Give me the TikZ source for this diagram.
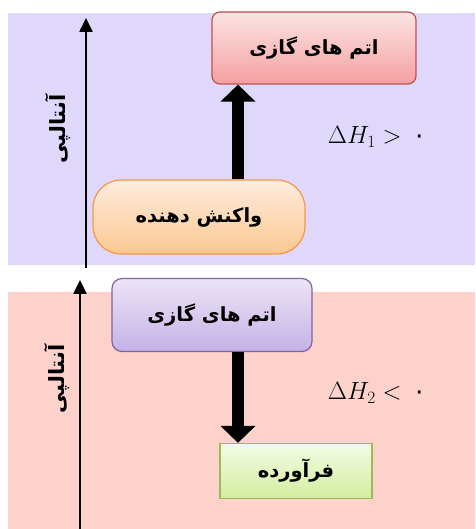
\documentclass[tikz,border=0pt]{standalone}
\usepackage{fontspec}
\usepackage{amsmath}
\usepackage{xcolor}
\usepackage{tikz}
\usetikzlibrary{arrows.meta, positioning, calc}
\newfontfamily\arabicfont[Script=Arabic]{DejaVu Sans}
\TeXXeTstate=1
\definecolor{topbg}{HTML}{DFD8FA}
\definecolor{botbg}{HTML}{FCD2CA}

\begin{document}
\begin{tikzpicture}[
    x=1pt, y=1pt,
    box/.style={rectangle, draw, line width=1.2pt, align=center, inner sep=0pt, font=\arabicfont\bfseries\fontsize{19.5}{22}\selectfont},
    axis/.style={-{Triangle[width=13pt,length=14pt]}, line width=2.5pt},
    bigarrow/.style={-{Triangle[width=34pt,length=17pt]}, line width=12pt},
    axislabel/.style={rotate=90, font=\arabicfont\bfseries\fontsize{21}{24}\selectfont},
    enthalpy/.style={font=\fontsize{25}{28}\selectfont}
]
\useasboundingbox (0,0) rectangle (475,529);

\fill[topbg] (8,264) rectangle (475,516);
\fill[botbg] (8,0) rectangle (475,237);

\coordinate (topaxisstart) at (86,261);
\coordinate (topaxisend) at (86,511);
\coordinate (botaxisstart) at (80,0);
\coordinate (botaxisend) at (80,249);
\coordinate (mid) at (238,0);

\draw[axis] (topaxisstart) -- (topaxisend);
\draw[axis] (botaxisstart) -- (botaxisend);

\node[axislabel] (toplabel) at (58,400) {\beginR آنتالپی\endR};
\node[axislabel] (botlabel) at (57,150) {\beginR آنتالپی\endR};

\node[box, rounded corners=8pt, draw={rgb,255:red,192;green,80;blue,77}, top color={rgb,255:red,253;green,228;blue,228}, bottom color={rgb,255:red,244;green,160;blue,160}, minimum width=204pt, minimum height=72pt] (gas1) at (314,481) {\beginR اتم های گازی\endR};
\node[box, rounded corners=28pt, draw={rgb,255:red,247;green,150;blue,70}, top color={rgb,255:red,254;green,236;blue,222}, bottom color={rgb,255:red,251;green,200;blue,145}, minimum width=212pt, minimum height=74pt] (reactant) at (199,312) {\beginR واکنش دهنده\endR};
\node[enthalpy] (dh1) at (377,392) {$\Delta H_1 >$\hspace{11pt}{\arabicfont ۰}};

\node[box, rounded corners=10pt, draw={rgb,255:red,128;green,100;blue,162}, top color={rgb,255:red,236;green,228;blue,246}, bottom color={rgb,255:red,196;green,178;blue,230}, minimum width=200pt, minimum height=73pt] (gas2) at (212,214) {\beginR اتم های گازی\endR};
\node[box, draw={rgb,255:red,155;green,187;blue,89}, top color={rgb,255:red,243;green,251;blue,228}, bottom color={rgb,255:red,212;green,237;blue,160}, minimum width=152pt, minimum height=55pt] (product) at (296,58) {\beginR فرآورده\endR};
\node[enthalpy] (dh2) at (377,136) {$\Delta H_2 <$\hspace{11pt}{\arabicfont ۰}};

\draw[bigarrow] (reactant.north -| mid) -- (gas1.south -| mid);
\draw[bigarrow] (gas2.south -| mid) -- (product.north -| mid);

\end{tikzpicture}
\end{document}
